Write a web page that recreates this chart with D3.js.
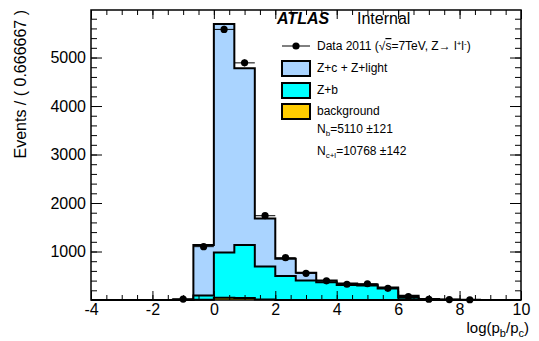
<!DOCTYPE html>
<html>
<head>
<meta charset="utf-8">
<script src="https://cdn.jsdelivr.net/npm/d3@7"></script>
<style>
  body { margin: 0; background: #fff; }
  text { font-family: "Liberation Sans", Arial, Helvetica, sans-serif; }
</style>
</head>
<body>
<div id="chart"></div>
<script>
// bin edges: -4 .. 10 in steps of 2/3 (21 bins)
const binLow = d3.range(21).map(i => -4 + i * 2 / 3);
const binWidth = 2 / 3;

// stacked components
const background = [0, 0, 0, 0, 0, 5, 45, 40, 10, 0, 0, 0, 0, 0, 0, 0, 0, 0, 0, 0, 0];
const zb         = [0, 0, 0, 0, 5, 90, 935, 1094, 680, 495, 400, 365, 308, 297, 238, 48, 12, 4, 2, 0, 0];
const zcl        = [0, 0, 0, 0, 7, 1040, 4710, 3643, 990, 355, 163, 35, 32, 22, 22, 40, 10, 4, 2, 1, 0];
// data 2011
const dataCounts = [0, 0, 0, 0, 20, 1100, 5580, 4890, 1738, 872, 550, 395, 325, 335, 241, 72, 15, 8, 5, 0, 0];

const xTicks = [-4, -2, 0, 2, 4, 6, 8, 10];
const yTicks = [1000, 2000, 3000, 4000, 5000];

const W = 539, H = 341;
const margin = {top: 10, right: 18, bottom: 41, left: 91};
const width = W - margin.left - margin.right,
      height = H - margin.top - margin.bottom;

const svg = d3.select("#chart").append("svg")
    .attr("width", W)
    .attr("height", H);
const g = svg.append("g")
    .attr("transform", `translate(${margin.left},${margin.top})`);

const x = d3.scaleLinear().domain([-4, 10]).range([0, width]);
const y = d3.scaleLinear().domain([0, 5980]).range([height, 0]);

// stack the three components (bottom to top)
const rows = binLow.map((lo, i) => ({lo: lo, background: background[i], zb: zb[i], zcl: zcl[i]}));
const stacked = d3.stack().keys(["background", "zb", "zcl"])(rows);
const colors = {background: "#ffcc00", zb: "#00ffff", zcl: "#aad4ff"};

function stepPoints(layer) {
    const pts = [];
    layer.forEach((d, i) => {
        pts.push([binLow[i], d[1]]);
        pts.push([binLow[i] + binWidth, d[1]]);
    });
    return pts;
}
const area = d3.area().x(d => x(d[0])).y0(y(0)).y1(d => y(d[1]));
const line = d3.line().x(d => x(d[0])).y(d => y(d[1]));

// draw the total first, lower layers on top of it
stacked.slice().reverse().forEach(layer => {
    const pts = stepPoints(layer);
    g.append("path").attr("d", area(pts)).attr("fill", colors[layer.key]);
    g.append("path").attr("d", line(pts))
        .attr("fill", "none").attr("stroke", "#000").attr("stroke-width", 2);
});

// data points with error bars
const pts = binLow.map((lo, i) => ({c: lo + binWidth / 2, lo: lo, hi: lo + binWidth, v: dataCounts[i]}))
    .filter(d => d.v > 0);
const dp = g.append("g");
dp.selectAll("line.h").data(pts).enter().append("line")
    .attr("x1", d => x(d.lo)).attr("x2", d => x(d.hi))
    .attr("y1", d => y(d.v)).attr("y2", d => y(d.v))
    .attr("stroke", "#000").attr("stroke-width", 1);
dp.selectAll("line.v").data(pts).enter().append("line")
    .attr("x1", d => x(d.c)).attr("x2", d => x(d.c))
    .attr("y1", d => y(d.v + Math.sqrt(d.v))).attr("y2", d => y(Math.max(0, d.v - Math.sqrt(d.v))))
    .attr("stroke", "#000").attr("stroke-width", 1);
dp.selectAll("circle").data(pts).enter().append("circle")
    .attr("cx", d => x(d.c)).attr("cy", d => y(d.v)).attr("r", 3.6).attr("fill", "#000");

// axes, ROOT style: ticks inward on all four sides
function styleAxis(sel) {
    sel.select(".domain").remove();
    sel.selectAll("line").attr("stroke", "#000");
    sel.selectAll("text").attr("font-size", 16).attr("fill", "#000")
        .style("font-family", "'Liberation Sans', Arial, Helvetica, sans-serif");
}
const plain = d => String(d);
g.append("g").attr("transform", `translate(0,${height})`)
    .call(d3.axisBottom(x).tickValues(xTicks).tickSize(-9).tickPadding(4).tickFormat(plain))
    .call(styleAxis);
g.append("g").attr("transform", `translate(0,${height})`)
    .call(d3.axisBottom(x).tickValues(d3.range(-4, 10.01, 0.5)).tickSize(-5).tickFormat(""))
    .call(styleAxis);
g.append("g")
    .call(d3.axisTop(x).tickValues(xTicks).tickSize(-9).tickFormat(""))
    .call(styleAxis);
g.append("g")
    .call(d3.axisTop(x).tickValues(d3.range(-4, 10.01, 0.5)).tickSize(-5).tickFormat(""))
    .call(styleAxis);
g.append("g")
    .call(d3.axisLeft(y).tickValues(yTicks).tickSize(-11).tickPadding(5).tickFormat(plain))
    .call(styleAxis);
g.append("g")
    .call(d3.axisLeft(y).tickValues(d3.range(200, 5980, 200)).tickSize(-6).tickFormat(""))
    .call(styleAxis);
g.append("g").attr("transform", `translate(${width},0)`)
    .call(d3.axisRight(y).tickValues(yTicks).tickSize(-11).tickFormat(""))
    .call(styleAxis);
g.append("g").attr("transform", `translate(${width},0)`)
    .call(d3.axisRight(y).tickValues(d3.range(200, 5980, 200)).tickSize(-6).tickFormat(""))
    .call(styleAxis);

// frame
g.append("rect").attr("width", width).attr("height", height)
    .attr("fill", "none").attr("stroke", "#000").attr("stroke-width", 1.5);

// axis titles
svg.append("text")
    .attr("transform", "translate(26,10) rotate(-90)")
    .attr("text-anchor", "end").attr("font-size", 16)
    .text("Events / ( 0.666667 )");

const xt = svg.append("text")
    .attr("x", 529).attr("y", 333)
    .attr("text-anchor", "end").attr("font-size", 15);
xt.append("tspan").text("log(p");
xt.append("tspan").attr("dy", 4).attr("font-size", 11).text("b");
xt.append("tspan").attr("dy", -4).text("/p");
xt.append("tspan").attr("dy", 4).attr("font-size", 11).text("c");
xt.append("tspan").attr("dy", -4).text(")");

// ATLAS label
svg.append("text").attr("x", 277).attr("y", 24)
    .attr("font-size", 16).attr("font-weight", "bold").attr("font-style", "italic")
    .text("ATLAS");
svg.append("text").attr("x", 357).attr("y", 24)
    .attr("font-size", 16).text("Internal");

// legend
const lg = svg.append("g");
const lx = 282, lw = 28, tx = 317;
lg.append("line").attr("x1", lx).attr("x2", lx + lw).attr("y1", 46).attr("y2", 46)
    .attr("stroke", "#000");
lg.append("circle").attr("cx", lx + lw / 2).attr("cy", 46).attr("r", 3.6).attr("fill", "#000");
const dt = lg.append("text").attr("x", tx).attr("y", 50).attr("font-size", 12);
dt.append("tspan").text("Data 2011 (√");
dt.append("tspan").attr("text-decoration", "overline").text("s");
dt.append("tspan").text("=7TeV, Z→ l");
dt.append("tspan").attr("dy", -4).attr("font-size", 8).text("+");
dt.append("tspan").attr("dy", 4).text("l");
dt.append("tspan").attr("dy", -4).attr("font-size", 8).text("-");
dt.append("tspan").attr("dy", 4).text(")");

const boxes = [
    {label: "Z+c + Z+light", color: colors.zcl, y: 61},
    {label: "Z+b", color: colors.zb, y: 83},
    {label: "background", color: colors.background, y: 104}
];
boxes.forEach(b => {
    lg.append("rect").attr("x", lx).attr("y", b.y).attr("width", lw).attr("height", 15)
        .attr("fill", b.color).attr("stroke", "#000").attr("stroke-width", 2);
    lg.append("text").attr("x", tx).attr("y", b.y + 11).attr("font-size", 12).text(b.label);
});

const nb = lg.append("text").attr("x", tx).attr("y", 133).attr("font-size", 12);
nb.append("tspan").text("N");
nb.append("tspan").attr("dy", 3).attr("font-size", 8).text("b");
nb.append("tspan").attr("dy", -3).text("=5110 ±121");

const ncl = lg.append("text").attr("x", tx).attr("y", 155).attr("font-size", 12);
ncl.append("tspan").text("N");
ncl.append("tspan").attr("dy", 3).attr("font-size", 8).text("c+l");
ncl.append("tspan").attr("dy", -3).text("=10768 ±142");
</script>
</body>
</html>
